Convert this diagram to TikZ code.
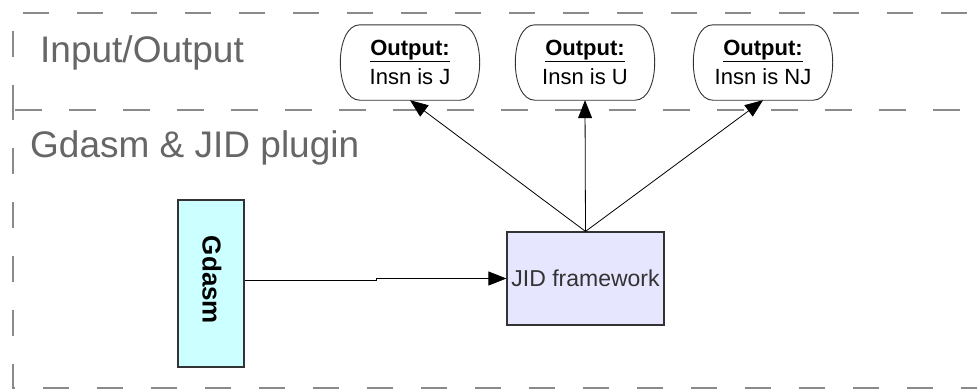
\documentclass[tikz,border=0pt]{standalone}
\usepackage{fontspec}
\setmainfont{Liberation Sans}
\usetikzlibrary{arrows.meta}
\definecolor{lanegray}{HTML}{8A8A8A}
\definecolor{titlegray}{HTML}{666666}
\definecolor{gdasmfill}{HTML}{CCFFFF}
\definecolor{jidfill}{HTML}{E6E6FF}
\definecolor{boxline}{HTML}{333333}

\begin{document}
\begin{tikzpicture}[x=1pt,y=-1pt,
  lane/.style={draw=lanegray,line width=2pt,dash pattern=on 26pt off 28pt},
  lanetitle/.style={text=titlegray,font=\fontsize{37}{40}\selectfont,anchor=base west,inner sep=0pt},
  outnode/.style={minimum width=140pt,minimum height=75pt,inner sep=0pt,align=center,
    font=\fontsize{22}{29}\selectfont},
  outline/.style={draw=boxline,line width=0.9pt},
  gdasmbox/.style={draw=boxline,fill=gdasmfill,line width=1.2pt,
    minimum width=66pt,minimum height=167pt,inner sep=0pt},
  jidbox/.style={draw=boxline,fill=jidfill,line width=1.2pt,
    minimum width=157pt,minimum height=93pt,inner sep=0pt,font=\fontsize{23}{26}\selectfont,text=boxline},
  conn/.style={draw=black,line width=0.8pt,-{Triangle[length=18pt,width=14pt]}}
]
\useasboundingbox (0,0) rectangle (977,389);

% swimlanes
\begin{scope}
  \clip (0,0) rectangle (977,389);
  \draw[lane,dash phase=1pt]  (13,110) -- (13,13) -- (1010,13) -- (1010,110) -- cycle;
  \draw[lane,dash phase=16pt] (13,110) -- (13,388) -- (1010,388) -- (1010,110) -- cycle;
\end{scope}
\node[lanetitle] (t1) at (40,62)  {Input/Output};
\node[lanetitle] (t2) at (30,157) {Gdasm \& JID plugin};

% output terminals
\node[outnode] (o1) at (410,62.5) {\textbf{\underline{Output:}}\\Insn is J};
\node[outnode] (o2) at (585,62.5) {\textbf{\underline{Output:}}\\Insn is U};
\node[outnode] (o3) at (763,62.5) {\textbf{\underline{Output:}}\\Insn is NJ};
\foreach \n in {o1,o2,o3}{
  \draw[outline]
    ([xshift=20pt]\n.north west) -- ([xshift=-20pt]\n.north east)
    .. controls ([xshift=6pt]\n.north east) and ([xshift=6pt]\n.south east) ..
    ([xshift=-20pt]\n.south east) -- ([xshift=20pt]\n.south west)
    .. controls ([xshift=-6pt]\n.south west) and ([xshift=-6pt]\n.north west) ..
    cycle;
}

% processes
\node[gdasmbox] (g) at (211,283.5) {};
\node[rotate=-90,font=\fontsize{26}{28}\selectfont\bfseries,inner sep=0pt] (gl) at (212,280) {Gdasm};
\node[jidbox] (j) at (585.5,278.5) {JID framework};

% connectors
\draw[conn] ([yshift=3.5pt]g.east) -- ++(132,0) |- (j.west);
\draw[conn] (j.north) -- (o1.south);
\draw[conn] (j.north) -- (o2.south);
\draw[conn] (j.north) -- (o3.south);
\end{tikzpicture}
\end{document}
